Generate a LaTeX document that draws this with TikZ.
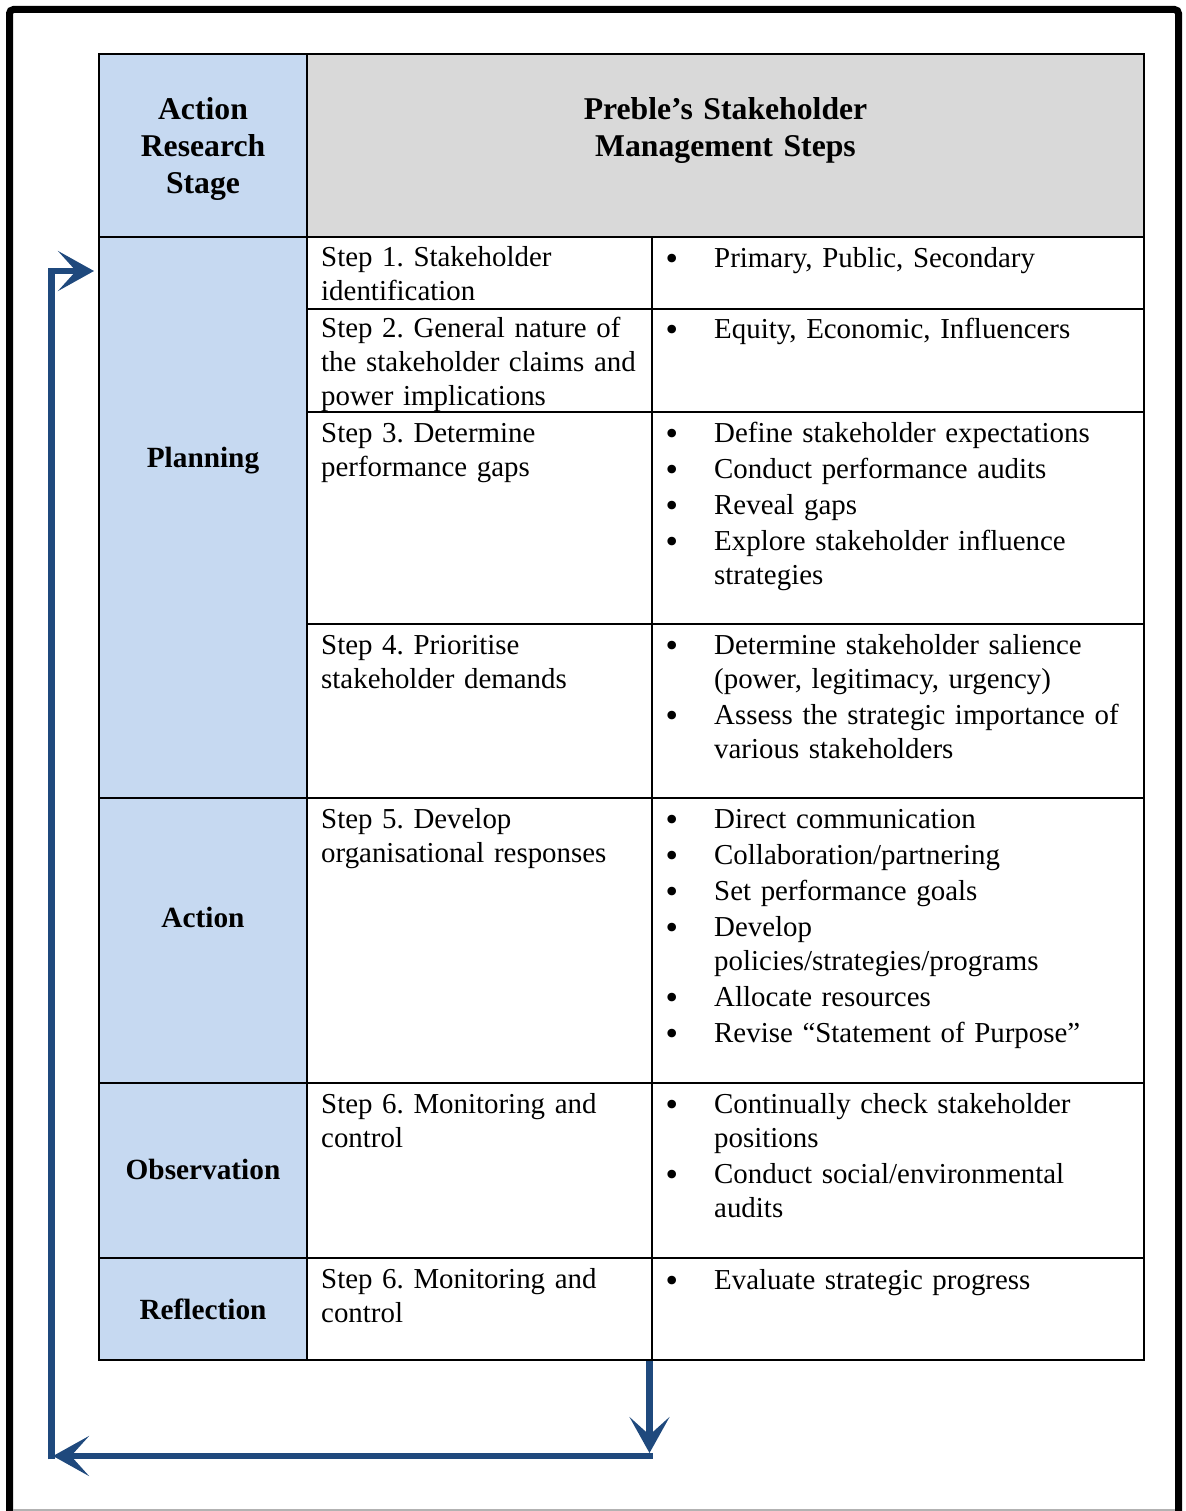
\documentclass[tikz,border=0pt]{standalone}
\usepackage{fontspec}
\setmainfont{Liberation Serif}
\newfontfamily\bulfont{DejaVu Sans}
\usetikzlibrary{arrows.meta,calc}
\definecolor{stageblue}{HTML}{C6D9F1}
\definecolor{headgray}{HTML}{D9D9D9}
\definecolor{arrowblue}{HTML}{1F497D}
\newcommand\bitemx[3]{%
  \node[bul] (#1b) at (672.5,#2+2) {•};
  \node[txt] (#1) at (714,#2) {#3};}
\begin{document}
\frenchspacing
\begin{tikzpicture}[x=1pt,y=-1pt,
  txt/.style={anchor=base west, inner sep=0pt, text width=460pt, align=left, font=\fontsize{28.9}{34}\selectfont\frenchspacing},
  head/.style={anchor=base, inner sep=0pt, text width=420pt, align=center, font=\fontsize{31.7}{37}\selectfont\bfseries\frenchspacing},
  stage/.style={anchor=base, inner sep=0pt, align=center, font=\fontsize{29.3}{34}\selectfont\bfseries},
  bul/.style={anchor=base, inner sep=0pt, font=\bulfont\fontsize{29.5}{34}\selectfont},
  grid/.style={line width=2pt, black},
  flow/.style={line width=6.5pt, arrowblue, -{Stealth[length=36pt,width=40pt,inset=18pt]}}
]
\useasboundingbox (0,0) rectangle (1185,1511);

% outer frame
\draw[line width=7pt, rounded corners=4pt] (9.5,1530) -- (9.5,9.5) -- (1178.5,9.5) -- (1178.5,1530);
\draw[black!30, line width=1.5pt] (13,1510) -- (1175,1510);

% table fills
\fill[stageblue] (99,54) rectangle (307,1360);
\fill[headgray] (307,54) rectangle (1144,237);

% table lines
\draw[grid] (99,54) rectangle (1144,1360);
\draw[grid] (307,54) -- (307,1360);
\draw[grid] (652,237) -- (652,1360);
\draw[grid] (99,237) -- (1144,237);
\draw[grid] (307,309) -- (1144,309);
\draw[grid] (307,412) -- (1144,412);
\draw[grid] (307,624) -- (1144,624);
\draw[grid] (99,798) -- (1144,798);
\draw[grid] (99,1083) -- (1144,1083);
\draw[grid] (99,1258) -- (1144,1258);

% header
\node[head] (hstage) at (203,120) {Action\\Research\\Stage};
\node[head] (hsteps) at (725.5,120) {Preble’s Stakeholder\\Management Steps};

% stages
\node[stage] (planning) at (203,467) {Planning};
\node[stage] (action) at (203,927) {Action};
\node[stage] (observation) at (203,1179) {Observation};
\node[stage] (reflection) at (203,1319) {Reflection};

% steps
\node[txt] (s1) at (321,267) {Step 1. Stakeholder\\identification};
\node[txt] (s2) at (321,337) {Step 2. General nature of\\the stakeholder claims and\\power implications};
\node[txt] (s3) at (321,442) {Step 3. Determine\\performance gaps};
\node[txt] (s4) at (321,654) {Step 4. Prioritise\\stakeholder demands};
\node[txt] (s5) at (321,828) {Step 5. Develop\\organisational responses};
\node[txt] (s6) at (321,1113) {Step 6. Monitoring and\\control};
\node[txt] (s7) at (321,1288) {Step 6. Monitoring and\\control};

% bullets
\bitemx{a1}{268}{Primary, Public, Secondary}
\bitemx{b1}{338}{Equity, Economic, Influencers}
\bitemx{c1}{442}{Define stakeholder expectations}
\bitemx{c2}{478}{Conduct performance audits}
\bitemx{c3}{514}{Reveal gaps}
\bitemx{c4}{550}{Explore stakeholder influence\\strategies}
\bitemx{d1}{654}{Determine stakeholder salience\\(power, legitimacy, urgency)}
\bitemx{d2}{724}{Assess the strategic importance of\\various stakeholders}
\bitemx{e1}{828}{Direct communication}
\bitemx{e2}{864}{Collaboration/partnering}
\bitemx{e3}{900}{Set performance goals}
\bitemx{e4}{936}{Develop\\policies/strategies/programs}
\bitemx{e5}{1006}{Allocate resources}
\bitemx{e6}{1042}{Revise “Statement of Purpose”}
\bitemx{f1}{1113}{Continually check stakeholder\\positions}
\bitemx{f2}{1183}{Conduct social/environmental\\audits}
\bitemx{g1}{1289}{Evaluate strategic progress}

% feedback arrows
\coordinate (tabout) at (649.5,1361);
\coordinate (downend) at (649.5,1453);
\coordinate (cornerR) at (652.75,1456);
\coordinate (leftend) at (53,1456);
\coordinate (cornerL) at (51.5,1459.25);
\coordinate (upturn) at (51.5,271);
\coordinate (entry) at (94,271);
\draw[flow] (tabout) -- (downend);
\draw[flow] (cornerR) -- (leftend);
\draw[flow, line join=miter] (cornerL) -- (upturn) -- (entry);
\end{tikzpicture}
\end{document}
